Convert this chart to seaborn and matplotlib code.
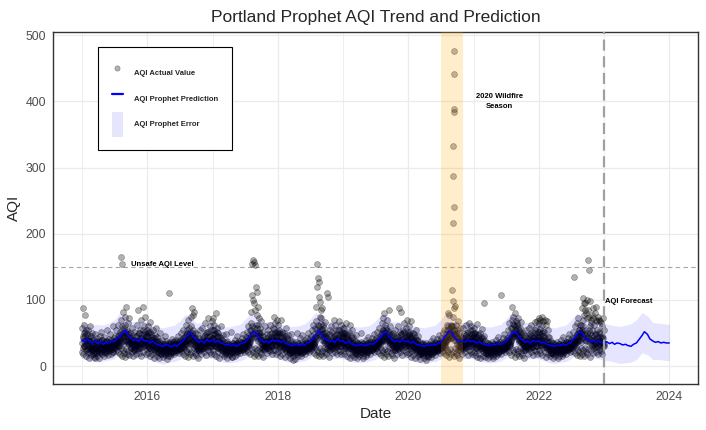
import pandas as pd
import numpy as np
import seaborn as sns
import matplotlib.pyplot as plt
import matplotlib.dates as mdates
from matplotlib.lines import Line2D
from matplotlib.patches import Patch

# ---------------- daily AQI readings (one every 3 days) ----------------
aqi_2015 = [58, 88, 45, 62, 30, 78, 52, 40, 25, 48,
            35, 55, 42, 22, 38, 60, 30, 45, 28, 50,
            33, 25, 40, 18, 48, 12, 36, 28, 42, 26,
            30, 38, 22, 45, 27, 52, 20, 40, 35, 29,
            32, 26, 44, 30, 38, 24, 55, 31, 36, 28, 41,
            34, 30, 48, 27, 39, 33, 60, 29, 37, 42,
            38, 45, 32, 55, 40, 35, 62, 30, 47, 43,
            52, 70, 165, 154, 60, 45, 82, 58, 40, 75,
            62, 48, 90, 55, 38, 65, 44, 72, 50, 35,
            42, 36, 58, 30, 47, 40, 26, 52, 38, 33,
            45, 30, 62, 85, 38, 50, 28, 55, 42, 70, 35,
            48, 90, 40, 60, 32, 52, 75, 38, 45, 30, 55]
aqi_2016 = [45, 60, 35, 52, 28, 40, 66, 38, 48, 30,
            42, 55, 33, 25, 47, 38, 58, 29, 36, 44,
            30, 22, 38, 27, 50, 18, 32, 26, 40, 24,
            28, 34, 20, 46, 25, 38, 22, 30, 15, 27,
            33, 111, 26, 36, 22, 30, 41, 25, 34, 28, 38,
            29, 35, 24, 40, 31, 27, 45, 33, 26, 36,
            32, 40, 28, 50, 35, 30, 55, 38, 42, 33,
            45, 62, 38, 55, 48, 70, 40, 58, 35, 52,
            74, 60, 88, 45, 78, 55, 40, 82, 50, 42,
            38, 30, 48, 35, 26, 42, 33, 55, 28, 36,
            40, 32, 58, 28, 45, 36, 65, 30, 50, 38, 44,
            52, 35, 72, 46, 30, 60, 40, 55, 33, 68, 42]
aqi_2017 = [55, 72, 40, 62, 35, 48, 80, 30, 58, 45,
            38, 50, 28, 44, 35, 60, 25, 40, 32, 47,
            30, 24, 36, 18, 28, 48, 22, 38, 26, 31,
            27, 33, 20, 29, 52, 24, 30, 14, 35, 28,
            32, 26, 40, 30, 22, 35, 45, 28, 33, 25, 38,
            30, 36, 27, 42, 33, 25, 48, 35, 29, 40,
            35, 44, 30, 52, 38, 60, 33, 47, 42, 55,
            65, 82, 107, 155, 160, 100, 95, 157, 153, 85,
            120, 78, 112, 90, 62, 72, 50, 58, 45, 68,
            40, 33, 52, 28, 45, 36, 60, 30, 42, 38,
            35, 48, 30, 55, 40, 25, 62, 38, 44, 32, 50,
            58, 40, 75, 48, 32, 65, 45, 52, 38, 70, 36]
aqi_2018 = [48, 62, 38, 55, 30, 44, 70, 35, 52, 40,
            36, 50, 28, 45, 33, 58, 26, 42, 30, 47,
            32, 25, 40, 20, 30, 48, 22, 38, 27, 9,
            28, 34, 21, 30, 37, 25, 50, 16, 35, 27,
            31, 26, 42, 29, 23, 36, 47, 28, 34, 25, 39,
            30, 37, 26, 43, 33, 28, 50, 35, 30, 41,
            36, 45, 30, 55, 40, 62, 34, 48, 44, 58,
            68, 90, 120, 154, 133, 104, 127, 97, 75, 85,
            72, 55, 88, 48, 62, 40, 58, 45, 66, 50,
            42, 110, 35, 105, 48, 38, 55, 30, 45, 60,
            40, 52, 32, 70, 45, 36, 62, 42, 55, 34, 48,
            55, 40, 68, 45, 30, 62, 48, 52, 36, 58, 42]
aqi_2019 = [45, 58, 35, 50, 28, 42, 65, 32, 48, 38,
            40, 52, 30, 62, 35, 46, 28, 55, 33, 44,
            30, 24, 38, 20, 32, 47, 35, 18, 29, 26,
            27, 33, 22, 50, 36, 25, 31, 15, 34, 28,
            30, 25, 40, 28, 22, 35, 44, 27, 33, 24, 37,
            29, 36, 25, 42, 32, 27, 48, 34, 29, 39,
            35, 43, 30, 52, 38, 33, 58, 36, 45, 40,
            48, 65, 40, 72, 55, 45, 80, 50, 62, 42,
            58, 45, 70, 40, 52, 85, 38, 60, 48, 35,
            40, 33, 50, 30, 45, 36, 55, 28, 42, 38,
            45, 35, 60, 88, 40, 52, 30, 82, 48, 38, 55,
            50, 38, 65, 44, 30, 58, 42, 70, 35, 52, 40]
aqi_2020 = [45, 60, 35, 52, 30, 42, 68, 38, 50, 40,
            36, 48, 28, 44, 33, 55, 26, 40, 30, 46,
            30, 22, 36, 18, 28, 33, 20, 35, 25, 29,
            26, 32, 20, 28, 35, 23, 30, 14, 33, 27,
            30, 24, 38, 27, 21, 34, 43, 26, 32, 23, 36,
            29, 35, 24, 41, 31, 26, 47, 33, 28, 38,
            34, 42, 30, 50, 37, 32, 55, 36, 44, 40,
            48, 62, 40, 80, 55, 45, 78, 52, 60, 42,
            115, 60, 75, 98, 55, 88, 48, 91, 62, 45,
            55, 42, 68, 38, 50, 35, 58, 30, 45, 40,
            42, 35, 58, 30, 48, 38, 62, 33, 50, 36, 45,
            52, 38, 65, 44, 30, 60, 42, 55, 35, 48, 40]
aqi_2021 = [45, 58, 35, 50, 28, 42, 64, 33, 48, 38,
            38, 50, 30, 44, 34, 56, 27, 42, 31, 46,
            95, 24, 38, 20, 31, 27, 35, 18, 29, 26,
            27, 33, 22, 30, 36, 25, 31, 16, 34, 28,
            30, 25, 40, 28, 22, 35, 44, 27, 33, 24, 37,
            29, 107, 25, 42, 32, 27, 48, 34, 29, 39,
            35, 43, 30, 55, 38, 65, 33, 48, 58, 40,
            70, 90, 48, 75, 62, 45, 80, 55, 68, 50,
            62, 45, 72, 40, 55, 38, 58, 48, 66, 35,
            40, 33, 50, 30, 45, 36, 55, 28, 42, 38,
            45, 35, 58, 30, 48, 40, 62, 33, 52, 38, 44,
            50, 38, 66, 44, 30, 58, 42, 68, 35, 52, 40]
aqi_2022 = [65, 72, 48, 70, 38, 62, 75, 45, 68, 52,
            40, 70, 32, 62, 36, 68, 28, 55, 35, 44,
            30, 24, 38, 20, 31, 27, 35, 18, 29, 26,
            27, 33, 22, 30, 36, 25, 31, 16, 34, 28,
            30, 25, 40, 28, 22, 35, 44, 27, 33, 24, 37,
            29, 36, 25, 42, 32, 27, 48, 34, 29, 39,
            35, 43, 30, 52, 134, 33, 60, 36, 45, 40,
            48, 65, 40, 72, 55, 45, 62, 50, 62, 42,
            88, 103, 70, 95, 78, 96, 85, 80, 100, 72,
            85, 161, 145, 75, 60, 98, 70, 65, 78, 55,
            88, 72, 62, 80, 48, 90, 70, 68, 55, 75, 44,
            52, 70, 68, 44, 65, 60, 42, 72, 35, 55, 40]

# the in-between days (mostly the dense core of the cloud)
core_2015 = [35, 42, 28, 50, 38, 30, 45, 55, 33, 40,
             30, 26, 38, 33, 45, 28, 36, 24, 40, 32,
             28, 35, 22, 30, 26, 38, 20, 33, 27, 31,
             25, 30, 36, 22, 28, 33, 26, 40, 24, 30,
             27, 33, 22, 36, 29, 25, 31, 38, 23, 30, 34,
             28, 24, 35, 30, 26, 38, 32, 22, 34, 29,
             33, 28, 40, 35, 30, 45, 36, 32, 38, 42,
             40, 48, 36, 55, 44, 38, 50, 45, 35, 52,
             45, 38, 52, 42, 35, 48, 40, 33, 44, 37,
             33, 28, 40, 35, 30, 25, 38, 32, 27, 36,
             38, 32, 45, 28, 40, 35, 50, 30, 42, 36, 33,
             42, 35, 55, 38, 30, 48, 40, 33, 45, 36, 50]
core_2016 = [38, 30, 46, 35, 52, 28, 40, 33, 44, 36,
             32, 40, 26, 35, 30, 42, 27, 34, 38, 29,
             26, 33, 20, 29, 35, 24, 31, 22, 28, 34,
             24, 30, 18, 27, 33, 21, 29, 25, 35, 23,
             26, 31, 20, 34, 27, 23, 30, 36, 22, 28, 32,
             25, 30, 22, 33, 28, 36, 24, 31, 27, 34,
             30, 36, 27, 40, 33, 29, 42, 35, 31, 38,
             38, 45, 34, 50, 40, 36, 48, 42, 33, 46,
             42, 36, 50, 40, 33, 46, 38, 31, 43, 35,
             31, 27, 38, 33, 28, 24, 36, 30, 26, 34,
             36, 30, 43, 27, 38, 33, 47, 29, 40, 35, 31,
             40, 33, 52, 36, 29, 46, 38, 31, 43, 35, 48]
core_2017 = [42, 35, 55, 40, 30, 48, 37, 52, 33, 45,
             34, 28, 40, 31, 37, 26, 43, 30, 35, 29,
             27, 32, 21, 30, 25, 36, 23, 29, 33, 26,
             25, 29, 19, 32, 26, 22, 30, 35, 24, 28,
             28, 24, 33, 21, 30, 26, 35, 23, 31, 27, 29,
             27, 33, 24, 30, 36, 26, 32, 28, 35, 30,
             32, 28, 38, 34, 30, 42, 36, 33, 40, 37,
             45, 55, 42, 60, 50, 48, 58, 52, 44, 62,
             50, 42, 58, 46, 38, 52, 44, 36, 48, 40,
             34, 29, 40, 36, 30, 26, 38, 32, 28, 35,
             37, 31, 44, 28, 39, 34, 48, 30, 41, 36, 32,
             44, 36, 56, 39, 31, 50, 41, 34, 46, 37, 52]
core_2018 = [40, 33, 50, 37, 29, 45, 36, 48, 31, 42,
             33, 27, 39, 30, 36, 25, 41, 29, 34, 28,
             26, 31, 20, 29, 24, 35, 22, 28, 32, 25,
             24, 28, 18, 31, 25, 21, 29, 34, 23, 27,
             27, 23, 32, 20, 29, 25, 34, 22, 30, 26, 28,
             26, 32, 23, 29, 35, 25, 31, 27, 34, 29,
             31, 27, 37, 33, 29, 41, 35, 32, 39, 36,
             46, 56, 43, 62, 51, 47, 60, 53, 45, 64,
             48, 40, 56, 44, 36, 50, 42, 35, 46, 38,
             33, 28, 39, 35, 29, 25, 37, 31, 27, 34,
             36, 30, 43, 27, 38, 33, 47, 29, 40, 35, 31,
             42, 35, 54, 38, 30, 48, 39, 33, 44, 36, 50]
core_2019 = [39, 32, 48, 36, 28, 44, 35, 47, 30, 41,
             34, 28, 40, 31, 37, 26, 42, 30, 35, 29,
             27, 32, 21, 30, 25, 36, 23, 29, 33, 26,
             25, 29, 19, 32, 26, 22, 30, 35, 24, 28,
             28, 24, 33, 21, 30, 26, 35, 23, 31, 27, 29,
             27, 33, 24, 30, 36, 26, 32, 28, 35, 30,
             32, 28, 38, 34, 30, 42, 36, 33, 40, 37,
             42, 50, 38, 55, 45, 40, 52, 47, 37, 54,
             46, 39, 53, 43, 36, 49, 41, 34, 45, 38,
             33, 28, 39, 35, 29, 25, 37, 31, 27, 34,
             37, 31, 44, 28, 39, 34, 48, 30, 41, 36, 32,
             41, 34, 52, 37, 29, 47, 38, 32, 43, 35, 49]
core_2020 = [38, 31, 47, 35, 28, 43, 34, 46, 30, 40,
             32, 26, 38, 29, 35, 24, 40, 28, 33, 27,
             24, 29, 18, 27, 22, 33, 20, 26, 30, 23,
             22, 26, 16, 29, 23, 19, 27, 32, 21, 25,
             26, 22, 31, 19, 28, 24, 33, 21, 29, 25, 27,
             26, 32, 23, 29, 35, 25, 31, 27, 34, 29,
             31, 27, 37, 33, 29, 41, 35, 32, 39, 36,
             44, 54, 41, 60, 49, 45, 58, 51, 43, 62,
             52, 44, 60, 48, 40, 55, 46, 38, 50, 42,
             34, 29, 40, 36, 30, 26, 38, 32, 28, 35,
             36, 30, 43, 27, 38, 33, 47, 29, 40, 35, 31,
             42, 35, 54, 38, 30, 48, 39, 33, 44, 36, 50]
core_2021 = [39, 32, 49, 36, 28, 44, 35, 47, 30, 41,
             33, 27, 39, 30, 36, 25, 41, 29, 34, 28,
             26, 31, 20, 29, 24, 35, 22, 28, 32, 25,
             24, 28, 18, 31, 25, 21, 29, 34, 23, 27,
             27, 23, 32, 20, 29, 25, 34, 22, 30, 26, 28,
             27, 33, 24, 30, 36, 26, 32, 28, 35, 30,
             33, 29, 39, 35, 31, 44, 37, 34, 42, 38,
             47, 57, 44, 63, 52, 48, 61, 54, 46, 65,
             49, 41, 57, 45, 37, 51, 43, 36, 47, 39,
             33, 28, 39, 35, 29, 25, 37, 31, 27, 34,
             36, 30, 43, 27, 38, 33, 47, 29, 40, 35, 31,
             43, 36, 55, 39, 31, 49, 40, 34, 45, 37, 51]
core_2022 = [44, 36, 56, 41, 31, 50, 39, 53, 34, 46,
             35, 29, 42, 32, 38, 27, 44, 31, 36, 30,
             26, 31, 20, 29, 24, 35, 22, 28, 32, 25,
             24, 28, 18, 31, 25, 21, 29, 34, 23, 27,
             27, 23, 32, 20, 29, 25, 34, 22, 30, 26, 28,
             27, 33, 24, 30, 36, 26, 32, 28, 35, 30,
             32, 28, 38, 34, 30, 42, 36, 33, 40, 37,
             42, 50, 38, 55, 45, 40, 52, 47, 37, 54,
             52, 44, 60, 48, 40, 55, 46, 38, 50, 42,
             45, 38, 55, 42, 35, 50, 40, 33, 47, 39,
             38, 32, 45, 29, 40, 35, 49, 31, 42, 37, 33,
             40, 33, 50, 36, 28, 45, 37, 31, 42, 34, 47]

# cleaner days, one every 6 days (lower edge of the cloud)
low_2015 = [22, 18, 30, 15, 26, 20, 12, 28, 17, 24, 19, 14, 27, 21, 16, 25, 13, 23, 18, 29,
            15, 22, 20, 26, 17, 31, 24, 19, 33, 21, 28, 25, 36, 22, 30, 18, 27, 16, 24, 20,
            14, 26, 19, 23, 17, 28, 21, 15, 25, 30, 18, 24, 35, 20, 27, 16, 29, 22, 38, 19, 26]
low_2016 = [20, 27, 15, 24, 18, 30, 13, 22, 26, 16, 21, 12, 25, 19, 14, 23, 17, 28, 11, 20,
            24, 15, 19, 27, 22, 18, 29, 25, 32, 20, 26, 23, 34, 19, 28, 16, 24, 21, 14, 26,
            18, 22, 15, 27, 20, 17, 25, 13, 23, 29, 19, 26, 33, 21, 28, 17, 24, 36, 22, 18, 30]
low_2017 = [24, 19, 31, 16, 27, 21, 13, 29, 18, 23, 15, 26, 20, 12, 24, 17, 22, 28, 14, 21,
            25, 16, 19, 23, 27, 20, 30, 26, 35, 22, 29, 24, 38, 21, 31, 18, 26, 22, 15, 27,
            19, 24, 16, 28, 21, 18, 26, 14, 25, 31, 20, 27, 36, 23, 29, 18, 25, 40, 24, 19, 32]
low_2018 = [21, 28, 16, 25, 19, 31, 14, 23, 27, 17, 22, 13, 26, 20, 15, 24, 11, 29, 18, 21,
            25, 16, 20, 28, 23, 19, 30, 26, 34, 21, 27, 24, 37, 20, 29, 17, 25, 22, 15, 27,
            19, 23, 16, 28, 21, 18, 26, 14, 24, 30, 20, 27, 35, 22, 29, 18, 25, 38, 23, 19, 31]
low_2019 = [23, 18, 29, 15, 26, 20, 12, 27, 17, 22, 14, 25, 19, 13, 23, 16, 21, 27, 12, 20,
            24, 15, 18, 22, 26, 19, 28, 24, 33, 21, 27, 23, 35, 20, 29, 17, 25, 21, 14, 26,
            18, 23, 15, 27, 20, 17, 25, 13, 24, 29, 19, 26, 34, 22, 28, 17, 24, 37, 22, 18, 30]
low_2020 = [20, 26, 14, 23, 17, 29, 12, 21, 25, 15, 19, 11, 23, 17, 12, 21, 10, 25, 15, 19,
            22, 14, 18, 25, 21, 17, 28, 24, 33, 20, 27, 23, 36, 20, 29, 17, 25, 21, 14, 26,
            18, 22, 15, 27, 20, 17, 24, 13, 23, 29, 19, 26, 33, 21, 28, 17, 24, 36, 22, 18, 30]
low_2021 = [22, 17, 28, 14, 25, 19, 12, 27, 16, 21, 14, 24, 18, 12, 22, 16, 20, 26, 12, 19,
            23, 15, 18, 22, 26, 19, 29, 25, 34, 21, 28, 24, 37, 21, 30, 17, 25, 21, 14, 26,
            18, 23, 15, 27, 20, 17, 25, 13, 24, 30, 19, 26, 34, 22, 29, 17, 25, 38, 23, 18, 31]
low_2022 = [25, 20, 32, 17, 28, 22, 14, 30, 19, 24, 15, 26, 20, 13, 23, 16, 21, 27, 12, 20,
            24, 15, 19, 23, 26, 19, 28, 24, 33, 21, 27, 23, 36, 20, 29, 17, 25, 22, 15, 27,
            19, 24, 16, 28, 21, 18, 26, 14, 25, 31, 20, 27, 35, 22, 29, 18, 25, 38, 23, 19, 31]

# the September 2020 wildfire days (daily readings)
fire_dates = pd.date_range('2020-09-08', periods=8, freq='D')
fire_aqi = [216, 287, 332, 388, 476, 441, 384, 240]

# ---------------- prophet prediction (1st and 15th of each month) ----------------
yhat_2015 = [40, 36, 41, 37, 35, 38, 34, 37, 33, 36, 35, 38, 37, 41, 45, 50, 54, 47, 43, 39, 40, 37, 42, 38]
yhat_2016 = [39, 35, 38, 34, 33, 31, 30, 33, 31, 29, 32, 30, 34, 37, 42, 47, 51, 44, 40, 36, 38, 35, 40, 37]
yhat_2017 = [40, 36, 38, 35, 34, 32, 33, 31, 32, 30, 33, 35, 36, 40, 46, 52, 50, 43, 39, 36, 38, 35, 40, 38]
yhat_2018 = [39, 36, 38, 34, 33, 31, 32, 34, 31, 33, 32, 35, 37, 41, 47, 53, 49, 42, 40, 37, 39, 36, 41, 38]
yhat_2019 = [38, 35, 37, 34, 33, 31, 32, 33, 31, 32, 34, 33, 36, 39, 44, 50, 52, 45, 40, 37, 39, 36, 40, 37]
yhat_2020 = [38, 35, 37, 33, 32, 31, 30, 32, 31, 33, 32, 34, 36, 41, 47, 53, 51, 44, 39, 37, 38, 36, 40, 37]
yhat_2021 = [38, 35, 37, 34, 33, 32, 31, 33, 32, 34, 33, 35, 37, 42, 48, 52, 49, 43, 39, 36, 38, 35, 39, 37]
yhat_2022 = [38, 35, 36, 33, 32, 31, 30, 32, 31, 33, 32, 34, 36, 41, 47, 52, 50, 43, 40, 37, 39, 36, 38, 36]
yhat_2023 = [35, 37, 34, 36, 33, 35, 34, 32, 33, 31, 30, 33, 35, 40, 46, 52, 48, 41, 38, 36, 37, 35, 36, 35]
yhat_end = [35]

# ---------------- prophet uncertainty band (monthly) ----------------
lower_vals = [12, 9, 7, 6, 8, 9, 11, 20, 18, 11, 12, 13,
              11, 8, 5, 3, 6, 7, 10, 18, 17, 10, 11, 12,
              12, 9, 6, 5, 6, 8, 11, 20, 19, 11, 12, 13,
              12, 8, 6, 5, 7, 8, 12, 21, 18, 12, 11, 12,
              11, 8, 6, 5, 6, 8, 10, 19, 20, 12, 12, 12,
              11, 7, 5, 4, 6, 7, 11, 21, 19, 11, 11, 12,
              11, 8, 6, 5, 6, 8, 12, 21, 18, 11, 11, 11,
              11, 8, 5, 4, 6, 7, 11, 20, 19, 12, 12, 11,
              9, 8, 6, 4, 5, 6, 10, 20, 17, 10, 10, 9,
              8]
upper_vals = [68, 64, 62, 63, 62, 65, 70, 80, 76, 67, 68, 69,
              66, 62, 59, 58, 60, 62, 68, 78, 74, 65, 66, 67,
              67, 63, 60, 59, 61, 63, 70, 80, 77, 66, 67, 68,
              67, 62, 60, 60, 61, 64, 71, 81, 76, 67, 68, 68,
              66, 62, 60, 59, 60, 62, 68, 78, 79, 67, 67, 67,
              66, 61, 59, 58, 60, 62, 70, 81, 78, 66, 66, 67,
              66, 62, 60, 59, 61, 63, 71, 80, 77, 66, 66, 66,
              66, 61, 59, 58, 60, 62, 70, 80, 77, 67, 67, 66,
              64, 63, 61, 60, 62, 64, 70, 81, 76, 66, 65, 64,
              63]

# ---------------- frames ----------------
parcalar = []
yillar = range(2015, 2023)
setler = [([aqi_2015, aqi_2016, aqi_2017, aqi_2018, aqi_2019, aqi_2020, aqi_2021, aqi_2022], '01-01', '3D'),
          ([core_2015, core_2016, core_2017, core_2018, core_2019, core_2020, core_2021, core_2022], '01-02', '3D'),
          ([low_2015, low_2016, low_2017, low_2018, low_2019, low_2020, low_2021, low_2022], '01-03', '6D')]
for listeler, basla, adim in setler:
    for yil, vals in zip(yillar, listeler):
        d = pd.date_range(f'{yil}-{basla}', periods=len(vals), freq=adim)
        parcalar.append(pd.DataFrame({'ds': d, 'y': vals}))
parcalar.append(pd.DataFrame({'ds': fire_dates, 'y': fire_aqi}))
df_pts = pd.concat(parcalar, ignore_index=True)
df_pts = df_pts[df_pts['ds'] < '2023-01-01'].sort_values('ds')

semi = [pd.Timestamp(yil, ay, gun) for yil in range(2015, 2024) for ay in range(1, 13) for gun in (1, 15)]
semi.append(pd.Timestamp('2024-01-01'))
yhat = yhat_2015 + yhat_2016 + yhat_2017 + yhat_2018 + yhat_2019 + yhat_2020 + yhat_2021 + yhat_2022 + yhat_2023 + yhat_end
df_pred = pd.DataFrame({'ds': semi, 'yhat': yhat})

band_ds = pd.date_range('2015-01-01', '2024-01-01', freq='MS')
df_band = pd.DataFrame({'ds': band_ds, 'lo': lower_vals, 'hi': upper_vals})

# ---------------- plot ----------------
sns.set_style('white')
plt.rcParams['font.family'] = ['Liberation Sans', 'DejaVu Sans']

fig, ax = plt.subplots(figsize=(7.06, 4.30), dpi=100)
fig.subplots_adjust(left=0.0751, right=0.9887, bottom=0.107, top=0.9256)

sns.scatterplot(data=df_pts, x='ds', y='y', color='black', alpha=0.3, s=18,
                edgecolor='black', linewidth=0.6, ax=ax, zorder=2)
ax.fill_between(df_band['ds'], df_band['lo'], df_band['hi'], color='#0000FF', alpha=0.1,
                linewidth=0, zorder=3)
ax.axvspan(pd.Timestamp('2020-07-01'), pd.Timestamp('2020-11-05'), color='orange', alpha=0.2,
           linewidth=0, zorder=4)
sns.lineplot(data=df_pred, x='ds', y='yhat', color='blue', linewidth=1.1, ax=ax, zorder=5)
ax.axhline(150, color='#A6A6A6', linewidth=0.8, dashes=(4, 3), zorder=1)
ax.axvline(pd.Timestamp('2023-01-01'), color='#A0A0A0', linewidth=1.6, dashes=(5, 2.5), zorder=6)

lbl = dict(fontsize=5.5, fontweight='bold', color='black', zorder=7)
ax.text(pd.Timestamp('2015-10-01'), 154, 'Unsafe AQI Level', ha='left', va='center', **lbl)
ax.text(pd.Timestamp('2021-05-25'), 400, '2020 Wildfire\nSeason', ha='center', va='center',
        linespacing=1.5, **lbl)
ax.text(pd.Timestamp('2023-01-09'), 98, 'AQI Forecast', ha='left', va='center', **lbl)

ax.set_xlim(pd.Timestamp('2014-07-23'), pd.Timestamp('2024-06-10'))
ax.set_ylim(-27, 505)
ax.set_yticks([0, 100, 200, 300, 400, 500])
ax.xaxis.set_major_locator(mdates.YearLocator(2))
ax.xaxis.set_major_formatter(mdates.DateFormatter('%Y'))
ax.xaxis.set_minor_locator(mdates.YearLocator(1))
ax.grid(which='major', color='#EBEBEB', linewidth=0.9)
ax.grid(which='minor', axis='x', color='#EBEBEB', linewidth=0.6)
ax.set_axisbelow(True)
for sp in ax.spines.values():
    sp.set_color('#333333')
    sp.set_linewidth(1.0)
ax.tick_params(which='major', length=3, width=0.8, color='#333333', labelsize=8.8,
               labelcolor='#4D4D4D', pad=2)
ax.tick_params(which='minor', length=0)

ax.set_title('Portland Prophet AQI Trend and Prediction', fontsize=12.5, pad=7)
ax.set_xlabel('Date', fontsize=11, labelpad=3)
ax.set_ylabel('AQI', fontsize=11, labelpad=3)

handles = [Line2D([], [], marker='o', linestyle='none', markersize=3.6, markerfacecolor='#B3B3B3',
                  markeredgecolor='#8C8C8C', markeredgewidth=0.6),
           Line2D([], [], color='blue', linewidth=1.6),
           Patch(facecolor='#E5E5FB', edgecolor='none')]
leg = ax.legend(handles, ['AQI Actual Value', 'AQI Prophet Prediction', 'AQI Prophet Error'],
                loc='upper left', bbox_to_anchor=(0.0702, 0.9565), borderaxespad=0,
                frameon=True, fancybox=False, framealpha=1, edgecolor='black',
                borderpad=1.75, handlelength=1.45, handleheight=4.7, labelspacing=0.05,
                handletextpad=1.5, prop={'size': 5.5, 'weight': 'bold'})
leg.get_frame().set_linewidth(0.8)
leg.set_zorder(8)

plt.savefig('out.png', dpi=100)
